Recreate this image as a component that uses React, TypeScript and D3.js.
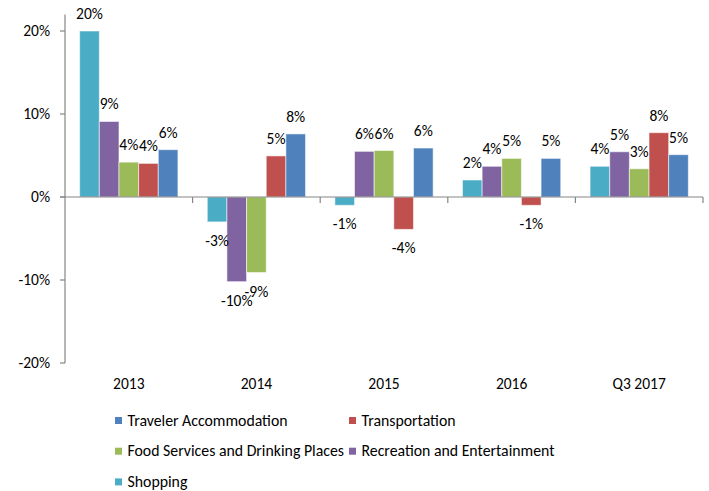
import React from 'react';
import * as d3 from 'd3';

// categories and series (bar order inside each group, left to right)
const categories = ['2013', '2014', '2015', '2016', 'Q3 2017'];
const seriesNames = ['Shopping', 'Recreation and Entertainment', 'Food Services and Drinking Places', 'Transportation', 'Traveler Accommodation'];
const seriesColors = ['#4BACC6', '#8064A2', '#9BBB59', '#C0504D', '#4F81BD'];

// values in % per series, one per category
const shopping = [20.0, -3.0, -1.0, 2.05, 3.7];
const recreation = [9.1, -10.2, 5.5, 3.7, 5.45];
const food = [4.2, -9.1, 5.6, 4.65, 3.4];
const transportation = [4.05, 4.95, -3.9, -1.0, 7.75];
const accommodation = [5.7, 7.6, 5.9, 4.65, 5.1];
const seriesValues = [shopping, recreation, food, transportation, accommodation];

const yTicks = [-20, -10, 0, 10, 20];
// legend order (as in the reference)
const legendOrder = ['Traveler Accommodation', 'Transportation', 'Food Services and Drinking Places', 'Recreation and Entertainment', 'Shopping'];

const W = 709;
const H = 491;
const FONT = 'Carlito, Lato, sans-serif';

export default function App() {
  const y = d3.scaleLinear().domain([-20, 20]).range([363, 31]);
  const x0 = d3.scaleBand().domain(categories).range([65, 703]).paddingInner(0.23).paddingOuter(0.115);
  const x1 = d3.scaleBand().domain(seriesNames).range([0, x0.bandwidth()]);
  const step = x0.step();
  const axisColor = '#868686';
  const fmt = (v: number) => `${Math.round(v)}%`;

  return (
    <svg width={W} height={H} style={{ position: 'absolute', left: 0, top: 0, background: '#fff' }} fontFamily={FONT}>
      {/* bars */}
      {categories.map((c, ci) => (
        <g key={c}>
          {seriesNames.map((s, si) => {
            const v = seriesValues[si][ci];
            const bx = (x0(c) ?? 0) + (x1(s) ?? 0);
            const top = Math.min(y(v), y(0));
            const h = Math.abs(y(v) - y(0));
            return (
              <rect key={s} x={bx} y={top} width={x1.bandwidth()} height={h}
                fill={seriesColors[si]} stroke="rgba(255,255,255,0.55)" strokeWidth={1} />
            );
          })}
        </g>
      ))}

      {/* y axis */}
      <line x1={65} x2={65} y1={y(22)} y2={y(-20)} stroke={axisColor} strokeWidth={1.2} />
      {yTicks.map(t => (
        <g key={t}>
          <line x1={60} x2={65} y1={y(t)} y2={y(t)} stroke={axisColor} strokeWidth={1.2} />
          <text x={50} y={y(t)} dy="0.35em" textAnchor="end" fontSize={15.5} fill="#000">{`${t}%`}</text>
        </g>
      ))}

      {/* x axis at zero */}
      <line x1={60} x2={703} y1={y(0)} y2={y(0)} stroke={axisColor} strokeWidth={1.2} />
      {categories.map(c => {
        const right = (x0(c) ?? 0) - (step * 0.115) + step;
        return <line key={c} x1={right} x2={right} y1={y(0)} y2={y(0) + 6} stroke={axisColor} strokeWidth={1.2} />;
      })}
      {categories.map(c => (
        <text key={c} x={(x0(c) ?? 0) + x0.bandwidth() / 2} y={389} textAnchor="middle" fontSize={15.5} fill="#000">{c}</text>
      ))}

      {/* data labels */}
      {categories.map((c, ci) => (
        <g key={c}>
          {seriesNames.map((s, si) => {
            const v = seriesValues[si][ci];
            const cx = (x0(c) ?? 0) + (x1(s) ?? 0) + x1.bandwidth() / 2;
            const ly = v >= 0 ? y(v) - 12 : y(v) + 24;
            return (
              <text key={s} x={cx} y={ly} textAnchor="middle" fontSize={15.5} fill="#000">{fmt(v)}</text>
            );
          })}
        </g>
      ))}

      {/* legend */}
      {legendOrder.map((name, i) => {
        const col = i % 2;
        const row = Math.floor(i / 2);
        const lx = col === 0 ? 115 : 349;
        const ly = 420.5 + row * 30.7;
        const color = seriesColors[seriesNames.indexOf(name)];
        return (
          <g key={name}>
            <rect x={lx} y={ly - 3.5} width={7} height={7} fill={color} />
            <text x={lx + 12.5} y={ly} dy="0.33em" fontSize={15.8} fill="#000">{name}</text>
          </g>
        );
      })}
    </svg>
  );
}
